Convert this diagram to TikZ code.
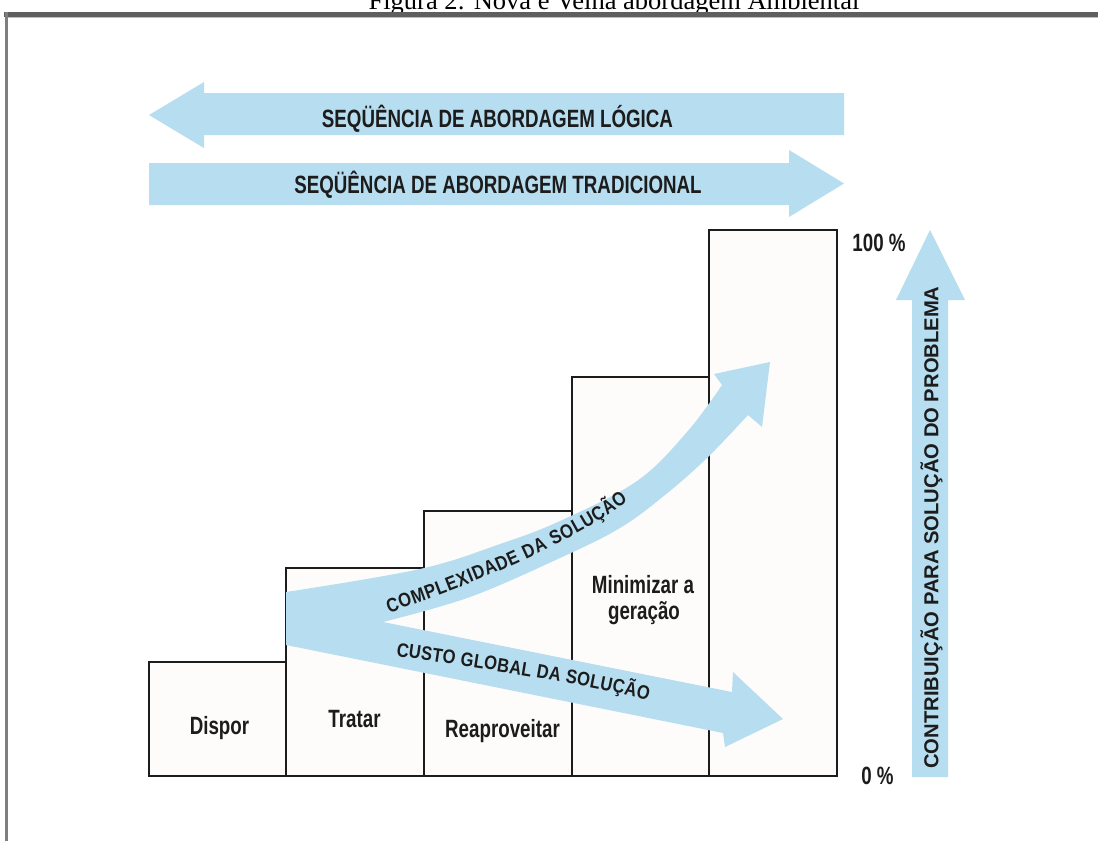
\documentclass[tikz,border=0pt]{standalone}
\usepackage{fontspec}
\setmainfont{Liberation Serif}
\newfontfamily\condfont[FakeStretch=0.75]{Liberation Sans}
\newfontfamily\curvefont[FakeStretch=0.85]{Liberation Sans}
\newfontfamily\plainsans{Liberation Sans}
\usetikzlibrary{decorations.text}
\definecolor{arrowblue}{RGB}{183,222,240}
\definecolor{ink}{RGB}{28,28,28}
\definecolor{framegray}{RGB}{95,95,95}
\definecolor{boxfill}{RGB}{253,252,250}
\begin{document}
\begin{tikzpicture}[x=1pt,y=-1pt,
  bar/.style={draw=ink,line width=2.6pt,fill=boxfill},
  lbl/.style={font=\condfont\bfseries\fontsize{25}{26}\selectfont,text=ink,inner sep=0pt,anchor=base},
  band/.style={fill=arrowblue},
  curvetext/.style={decorate,decoration={text along path,text align=fit to path,
      text={|\curvefont\bfseries\fontsize{19.5}{20}\selectfont\color{ink}|#1}}}]
\useasboundingbox (0,0) rectangle (1098,841);
\fill[white] (0,0) rectangle (1098,841);

% frame and clipped caption
\node[font=\fontsize{26.5}{28}\selectfont,text=black,inner sep=0pt,anchor=base] (caption) at (614,9.5) {Figura 2: Nova e Velha abordagem Ambiental};
\draw[framegray,line width=5pt] (4,14.5) -- (1098,14.5);
\draw[black!25,line width=1pt] (8,17.5) -- (1098,17.5);
\draw[framegray!80,line width=3pt] (6,12) -- (6,841);

% horizontal arrows
\fill[band] (844,93) -- (204,93) -- (204,82) -- (149,115) -- (204,148) -- (204,135) -- (844,135) -- cycle;
\fill[band] (149,163) -- (789,163) -- (789,150) -- (844,183.5) -- (789,217) -- (789,205) -- (149,205) -- cycle;
\node[lbl] (logica) at (497.5,127) {SEQÜÊNCIA DE ABORDAGEM LÓGICA};
\node[lbl] (tradicional) at (498,193) {SEQÜÊNCIA DE ABORDAGEM TRADICIONAL};

% steps
\draw[bar] (149,776) rectangle (286,662);
\draw[bar] (286,776) rectangle (424,568);
\draw[bar] (424,776) rectangle (572,511);
\draw[bar] (572,776) rectangle (709,377);
\draw[bar] (709,776) rectangle (837,230);

% curved arrows
\fill[band] (286,592)
  -- plot[smooth,tension=0.6] coordinates {(286,592) (420,569) (500,544) (560,521) (637,481) (687,432) (722,385)}
  -- (714,374) -- (770,362) -- (762,427) -- (748,415)
  -- plot[smooth,tension=0.6] coordinates {(748,415) (707,458) (665,495) (620,528) (560,558) (470,597) (383,622)}
  -- (732,692) -- (733,672) -- (783,719) -- (725,747) -- (723,733)
  -- (286,645) -- cycle;
\path[curvetext={COMPLEXIDADE DA SOLUÇÃO}] (389,613) .. controls (470,585) and (570,545) .. (628,501);
\path[curvetext={CUSTO GLOBAL DA SOLUÇÃO}] (396,656) .. controls (460,665) and (580,683) .. (648,700);

% step labels
\node[lbl] (dispor) at (219.5,734) {Dispor};
\node[lbl] (tratar) at (354.5,727) {Tratar};
\node[lbl] (reaproveitar) at (502.5,737) {Reaproveitar};
\node[lbl] (minimizar) at (643,593) {Minimizar a};
\node[lbl] (geracao) at (644,619) {geração};

% vertical arrow
\fill[band] (912,777) -- (912,300) -- (896,300) -- (930,230) -- (965,300) -- (948,300) -- (948,777) -- cycle;
\node[font=\plainsans\bfseries\fontsize{20.2}{21}\selectfont,text=ink,inner sep=0pt,rotate=90] (contrib) at (931.5,527.5) {CONTRIBUIÇÃO PARA SOLUÇÃO DO PROBLEMA};
\node[lbl] (cem) at (879,251) {100 \%};
\node[lbl] (zero) at (877.5,784) {0 \%};
\end{tikzpicture}
\end{document}
